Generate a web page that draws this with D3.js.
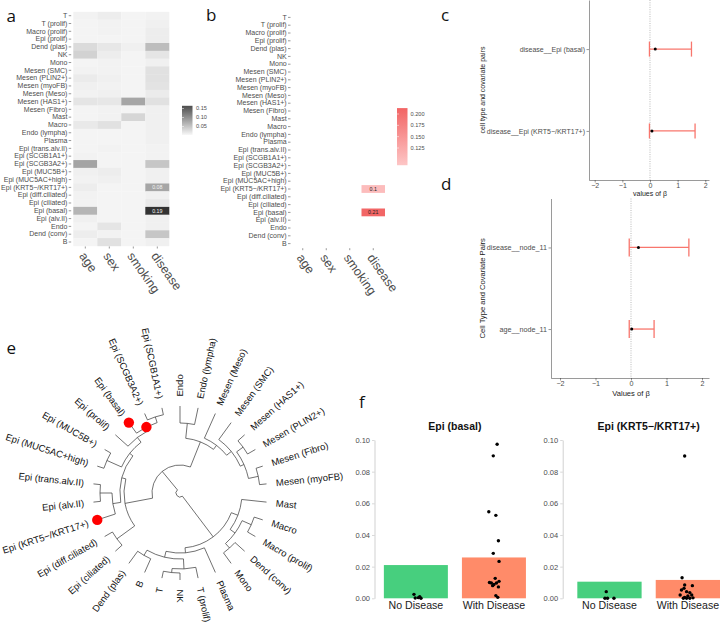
<!DOCTYPE html>
<html><head><meta charset="utf-8">
<script src="https://cdn.jsdelivr.net/npm/d3@7/dist/d3.min.js"></script>
<style>
html,body{margin:0;padding:0;background:#fff;}
svg{display:block;}
</style></head>
<body>
<svg id="fig" width="720" height="622" xmlns="http://www.w3.org/2000/svg"></svg>
<script>
// ================= DATA =================
const cellTypes = ["T","T (prolif)","Macro (prolif)","Epi (prolif)","Dend (plas)","NK","Mono","Mesen (SMC)","Mesen (PLIN2+)","Mesen (myoFB)","Mesen (Meso)","Mesen (HAS1+)","Mesen (Fibro)","Mast","Macro","Endo (lympha)","Plasma","Epi (trans.alv.II)","Epi (SCGB1A1+)","Epi (SCGB3A2+)","Epi (MUC5B+)","Epi (MUC5AC+high)","Epi (KRT5\u2212/KRT17+)","Epi (diff.ciliated)","Epi (ciliated)","Epi (basal)","Epi (alv.II)","Endo","Dend (conv)","B"];
const covariates = ["age","sex","smoking","disease"];
const heatAge     = [.008,.006,.006,.006,.030,.038,.006,.008,.014,.010,.008,.020,.006,.006,.016,.006,.006,.006,.008,.082,.010,.008,.012,.008,.008,.066,.010,.006,.012,.006];
const heatSex     = [.012,.008,.008,.006,.018,.012,.008,.008,.010,.008,.010,.018,.008,.008,.024,.006,.006,.008,.006,.006,.012,.010,.006,.006,.006,.006,.006,.020,.008,.024];
const heatSmoking = [.006,.006,.006,.006,.010,.006,.006,.006,.006,.006,.006,.080,.006,.034,.006,.006,.006,.006,.006,.006,.006,.006,.006,.006,.006,.006,.006,.006,.006,.006];
const heatDisease = [.008,.010,.012,.012,.058,.020,.010,.024,.024,.022,.014,.024,.010,.010,.010,.010,.010,.008,.008,.050,.010,.010,.080,.010,.016,.190,.010,.010,.050,.010];
const heatLegendTicks = [0.05, 0.10, 0.15];
const heatLabelRows = ["Epi (KRT5\u2212/KRT17+)", "Epi (basal)"];
const heatLabelText = ["0.08", "0.19"];

const credRows = ["Epi (KRT5\u2212/KRT17+)", "Epi (basal)"];
const credValues = [0.10, 0.21];
const credText = ["0.1", "0.21"];
const credLegendTicks = [0.125, 0.150, 0.175, 0.200];

const betaTicks = [-2, -1, 0, 1, 2];
const cPairs = ["disease__Epi (basal)", "disease__Epi (KRT5\u2212/KRT17+)"];
const cBeta = [0.19, 0.07];
const cLow  = [-0.02, -0.02];
const cHigh = [1.50, 1.63];
const dPairs = ["disease__node_11", "age__node_11"];
const dBeta = [0.21, 0.02];
const dLow  = [-0.05, -0.05];
const dHigh = [1.63, 0.65];

// tree: [parent, child, branch length]
const treeEdges = [
 ["root","Immune",51],
 ["Immune","Myeloid",7],
 ["Myeloid","Mast",25],
 ["Myeloid","node_m2",6],
 ["node_m2","node_macro",10],
 ["node_macro","Macro",9],
 ["node_macro","Macro (prolif)",9],
 ["node_m2","node_dcmono",6],
 ["node_dcmono","Dend (conv)",13],
 ["node_dcmono","Mono",13],
 ["Immune","Lymphoid",5],
 ["Lymphoid","Plasma",27],
 ["Lymphoid","node_l2",6],
 ["node_l2","node_t",10],
 ["node_t","T (prolif)",11],
 ["node_t","node_nkt",4],
 ["node_nkt","NK",7],
 ["node_nkt","T",7],
 ["node_l2","node_b",6],
 ["node_b","B",15],
 ["node_b","Dend (plas)",15],
 ["root","Rest",24],
 ["Rest","Epi",28],
 ["Epi","node_cil",22],
 ["node_cil","Epi (ciliated)",9],
 ["node_cil","Epi (diff.ciliated)",9],
 ["Epi","node_a2",4],
 ["node_a2","node_g",8],
 ["node_g","Epi (KRT5\u2212/KRT17+)",19],
 ["node_g","node_alv",12],
 ["node_alv","Epi (alv.II)",7],
 ["node_alv","Epi (trans.alv.II)",7],
 ["node_a2","node_h",4],
 ["node_h","node_muc",16],
 ["node_muc","Epi (MUC5AC+high)",7],
 ["node_muc","Epi (MUC5B+)",7],
 ["node_h","node_p",6],
 ["node_p","Epi (prolif)",17],
 ["node_p","node_11",4],
 ["node_11","Epi (basal)",13],
 ["node_11","node_scgb",6],
 ["node_scgb","Epi (SCGB3A2+)",7],
 ["node_scgb","Epi (SCGB1A1+)",7],
 ["Rest","EndoMesen",27],
 ["EndoMesen","node_endo",15],
 ["node_endo","Endo",17],
 ["node_endo","Endo (lympha)",17],
 ["EndoMesen","Mesen",5],
 ["Mesen","Mesen (Meso)",27],
 ["Mesen","node_m1",6],
 ["node_m1","Mesen (SMC)",21],
 ["node_m1","node_mm",4],
 ["node_mm","node_hp",8],
 ["node_hp","Mesen (HAS1+)",9],
 ["node_hp","Mesen (PLIN2+)",9],
 ["node_mm","node_fm",10],
 ["node_fm","Mesen (Fibro)",7],
 ["node_fm","Mesen (myoFB)",7]
];
const highlighted = ["Epi (basal)", "Epi (KRT5\u2212/KRT17+)", "node_11"];

const fGroups = ["No Disease", "With Disease"];
const yTicksF = [0, 0.02, 0.04, 0.06, 0.08, 0.10];
const basalMean = [0.0210, 0.0258];
const krtMean   = [0.0105, 0.0116];
const basalNoVals = [0.0025, 0.0002, 0.0010, 0.0000, 0.0004];
const basalNoJit  = [-0.03, -0.01, 0.06, 0.08, 0.04];
const basalYesVals = [0.0973, 0.0900, 0.0547, 0.0524, 0.0364, 0.0284, 0.0233, 0.0126, 0.0100, 0.0097, 0.0087, 0.0097, 0.0107, 0.0080, 0.0072, 0.0017, 0.0006];
const basalYesJit  = [0.05, -0.01, -0.08, 0.03, 0.07, -0.01, 0.08, 0.02, -0.07, -0.04, 0.0, 0.04, 0.08, -0.02, 0.07, 0.03, 0.06];
const krtNoVals = [0.0042, 0.0000, 0.0000, 0.0000];
const krtNoJit  = [-0.05, -0.07, -0.03, 0.07];
const krtYesVals = [0.0899, 0.0130, 0.0084, 0.0063, 0.0080, 0.0052, 0.0042, 0.0036, 0.0021, 0.0021, 0.0015, 0.0006, 0.0000, 0.0000, 0.0003, 0.0000];
const krtYesJit  = [-0.05, -0.09, -0.05, -0.06, 0.07, -0.10, -0.02, 0.03, -0.12, 0.06, 0.0, -0.05, 0.03, -0.07, 0.08, -0.02];

// ================= DRAWING =================
const FONT = '"Liberation Sans", Arial, Helvetica, sans-serif';
const svg = d3.select("#fig").style("font-family", FONT);
const TXT = "#4d4d4d";

// panel letters
const letters = [["a",6.5,21.7],["b",206,20.7],["c",441,21],["d",441,190],["e",6.5,353.5],["f",359,408]];
svg.selectAll("text.letter").data(letters).join("text").attr("class","letter")
  .attr("x",d=>d[1]).attr("y",d=>d[2]).text(d=>d[0])
  .style("font-family",'"Open Sans", "Liberation Sans", sans-serif').style("font-size","17px").attr("fill","#111");

function styleAxis(g, size, color){
  g.selectAll("text").style("font-family",FONT).style("font-size",size+"px").attr("fill",color||TXT);
  g.selectAll("line").attr("stroke","#333").attr("stroke-width",0.5);
}

// ---------- Panel a : heatmap ----------
const heatValues = [heatAge, heatSex, heatSmoking, heatDisease];
const yA = d3.scaleBand().domain(cellTypes).range([11.8, 245.9]);
const xA = d3.scaleBand().domain(covariates).range([73.3, 169.3]);
const heatColor = d3.scaleLinear().domain([0, 0.19]).range(["#fafafa", "#333333"]);
const gA = svg.append("g");
covariates.forEach((cov, j) => {
  gA.append("g").selectAll("rect").data(heatValues[j]).join("rect")
    .attr("x", xA(cov)).attr("y", (d,i)=>yA(cellTypes[i]))
    .attr("width", xA.bandwidth()).attr("height", yA.bandwidth()+0.3)
    .attr("fill", d=>heatColor(d));
});
gA.selectAll("text.cell").data(heatLabelRows).join("text").attr("class","cell")
  .attr("x", xA("disease")+xA.bandwidth()/2).attr("y",(d)=>yA(d)+yA.bandwidth()/2)
  .attr("dy","0.35em").attr("text-anchor","middle").style("font-size","5.3px").attr("fill","#f2f2f2")
  .text((d,i)=>heatLabelText[i]);
const axA = gA.append("g").attr("transform","translate(71.2,0)")
  .call(d3.axisLeft(yA).tickSize(2.5).tickPadding(1.3).tickSizeOuter(0));
axA.select(".domain").remove(); styleAxis(axA, 7.0);
const axAb = gA.append("g").attr("transform","translate(0,246.5)")
  .call(d3.axisBottom(xA).tickSize(2).tickSizeOuter(0));
axAb.select(".domain").remove(); styleAxis(axAb, 12.5);
axAb.selectAll("text").attr("x",0).attr("y",0).attr("dy","0.35em").attr("text-anchor","start")
  .attr("transform","translate(-3,7) rotate(55)");

// legend a
const yLa = d3.scaleLinear().domain([0.15, 0.05]).range([108.5, 126.5]);
const defs = svg.append("defs");
const gradA = defs.append("linearGradient").attr("id","gradA").attr("x1",0).attr("y1",1).attr("x2",0).attr("y2",0);
d3.range(0, 1.01, 0.1).forEach(t => gradA.append("stop").attr("offset",t)
  .attr("stop-color", heatColor(0.003 + t*(0.165-0.003))));
gA.append("rect").attr("x",182).attr("width",10.5).attr("y",yLa(0.165)).attr("height",yLa(0.003)-yLa(0.165)).attr("fill","url(#gradA)");
gA.selectAll("text.leg").data(heatLegendTicks).join("text").attr("class","leg")
  .attr("x",196).attr("y",d=>yLa(d)).attr("dy","0.35em").style("font-size","5.6px").attr("fill",TXT)
  .text(d=>d.toFixed(2));
gA.selectAll("line.leg").data(heatLegendTicks).join("line").attr("class","leg")
  .attr("x1",182).attr("x2",184).attr("y1",d=>yLa(d)).attr("y2",d=>yLa(d)).attr("stroke","#fff").attr("stroke-width",0.5);

// ---------- Panel b : credible effects ----------
const yB = d3.scaleBand().domain(cellTypes).range([13.5, 247.5]);
const xB = d3.scaleBand().domain(covariates).range([291, 385]);
const credColor = d3.scaleLinear().domain([0.087, 0.213]).range(["#fdc6c6", "#f26464"]);
const gB = svg.append("g");
gB.selectAll("rect.cell").data(credValues).join("rect").attr("class","cell")
  .attr("x", xB("disease")).attr("y",(d,i)=>yB(credRows[i])).attr("width",xB.bandwidth()).attr("height",yB.bandwidth())
  .attr("fill", d=>credColor(d));
gB.selectAll("text.cell").data(credValues).join("text").attr("class","cell")
  .attr("x", xB("disease")+xB.bandwidth()/2).attr("y",(d,i)=>yB(credRows[i])+yB.bandwidth()/2)
  .attr("dy","0.35em").attr("text-anchor","middle").style("font-size","5.3px").attr("fill","#222")
  .text((d,i)=>credText[i]);
const axB = gB.append("g").attr("transform","translate(290.5,0)")
  .call(d3.axisLeft(yB).tickSize(2.5).tickPadding(1.3).tickSizeOuter(0));
axB.select(".domain").remove(); styleAxis(axB, 7.0);
const axBb = gB.append("g").attr("transform","translate(0,248.2)")
  .call(d3.axisBottom(xB).tickSize(2).tickSizeOuter(0));
axBb.select(".domain").remove(); styleAxis(axBb, 12.5);
axBb.selectAll("text").attr("x",0).attr("y",0).attr("dy","0.35em").attr("text-anchor","start")
  .attr("transform","translate(-3,7) rotate(55)");
const yLb = d3.scaleLinear().domain([0.200, 0.125]).range([114, 148]);
const gradB = defs.append("linearGradient").attr("id","gradB").attr("x1",0).attr("y1",1).attr("x2",0).attr("y2",0);
d3.range(0, 1.01, 0.1).forEach(t => gradB.append("stop").attr("offset",t)
  .attr("stop-color", credColor(0.087 + t*(0.213-0.087))));
gB.append("rect").attr("x",397).attr("width",10.5).attr("y",yLb(0.213)).attr("height",yLb(0.087)-yLb(0.213)).attr("fill","url(#gradB)");
gB.selectAll("text.leg").data(credLegendTicks).join("text").attr("class","leg")
  .attr("x",410.5).attr("y",d=>yLb(d)).attr("dy","0.35em").style("font-size","5.6px").attr("fill",TXT)
  .text(d=>d.toFixed(3));
gB.selectAll("line.leg").data(credLegendTicks).join("line").attr("class","leg")
  .attr("x1",397).attr("x2",399).attr("y1",d=>yLb(d)).attr("y2",d=>yLb(d)).attr("stroke","#fff").attr("stroke-width",0.5);

// ---------- Panels c & d : forest plots ----------
function forest(cfg){
  const g = svg.append("g");
  const x = d3.scaleLinear().domain(cfg.xdom).range(cfg.xr);
  const y = d3.scalePoint().domain(cfg.pairs).range(cfg.yr).padding(0.6);
  g.append("line").attr("x1",x(0)).attr("x2",x(0)).attr("y1",cfg.yr[0]).attr("y2",cfg.yr[1])
    .attr("stroke","#8c8c8c").attr("stroke-width",0.6).attr("stroke-dasharray","1,1.3");
  const ax = g.append("g").attr("transform",`translate(0,${cfg.yr[1]})`)
    .call(d3.axisBottom(x).tickValues(betaTicks).tickSize(2.5).tickSizeOuter(0).tickPadding(0.8)
      .tickFormat(d => d < 0 ? "\u2212" + Math.abs(d) : d));
  styleAxis(ax, cfg.tickFs);
  ax.select(".domain").attr("stroke","#555").attr("stroke-width",0.6);
  const ay = g.append("g").attr("transform",`translate(${cfg.xr[0]},0)`)
    .call(d3.axisLeft(y).tickSize(2.5).tickSizeOuter(0).tickPadding(1.5));
  styleAxis(ay, cfg.labFs);
  ay.select(".domain").attr("stroke","#555").attr("stroke-width",0.6);
  cfg.pairs.forEach((p,i) => {
    const yy = y(p);
    g.append("line").attr("x1",x(cfg.low[i])).attr("x2",x(cfg.high[i])).attr("y1",yy).attr("y2",yy)
      .attr("stroke","#F8766D").attr("stroke-width",1.3);
    [cfg.low[i], cfg.high[i]].forEach(v => g.append("line").attr("x1",x(v)).attr("x2",x(v))
      .attr("y1",yy-cfg.cap).attr("y2",yy+cfg.cap).attr("stroke","#F8766D").attr("stroke-width",1.3));
    g.append("circle").attr("cx",x(cfg.beta[i])).attr("cy",yy).attr("r",1.5).attr("fill","#000");
  });
  g.append("text").attr("x",x(0)).attr("y",cfg.xlabY)
    .attr("text-anchor","middle").style("font-size",cfg.titleFs+"px").attr("fill","#1a1a1a").text(cfg.xlab);
  g.append("text").attr("transform",`translate(${cfg.ylabX},${(cfg.yr[0]+cfg.yr[1])/2}) rotate(-90)`)
    .attr("text-anchor","middle").style("font-size",cfg.titleFs+"px").attr("fill","#1a1a1a").text(cfg.ylab);
}
forest({pairs:cPairs, beta:cBeta, low:cLow, high:cHigh, xdom:[-2.206, 2.134], xr:[589, 709], yr:[0, 180],
  cap:7.5, tickFs:7, labFs:7, titleFs:7, xlab:"values of \u03b2", xlabY:196, ylab:"cell type and covariate pairs", ylabX:485});
forest({pairs:dPairs, beta:dBeta, low:dLow, high:dHigh, xdom:[-2.254, 2.197], xr:[551, 709], yr:[198.5, 378],
  cap:9, tickFs:7.2, labFs:7.2, titleFs:7.6, xlab:"Values of \u03b2", xlabY:395.5, ylab:"Cell Type and Covariate Pairs", ylabX:485});

// ---------- Panel e : circular dendrogram ----------
const cx = 180, cy = 493;
const root = d3.stratify().id(d=>d[1]).parentId(d=>d[0])([["", "root", 0]].concat(treeEdges));
d3.cluster().size([360, 1]).separation(() => 1)(root);
root.eachBefore(n => { n.len = n.parent ? n.parent.len + n.data[2] : 0; });
const rScale = d3.scaleLinear().domain([0, 83]).range([4, 87]);
const rad = a => a * Math.PI / 180;
const pt = (a, r) => [cx + r*Math.cos(rad(a)), cy + r*Math.sin(rad(a))];
const gE = svg.append("g");
root.descendants().forEach(n => {
  if (n.parent) {
    const p0 = pt(n.x, rScale(n.parent.len)), p1 = pt(n.x, rScale(n.len));
    gE.append("line").attr("x1",p0[0]).attr("y1",p0[1]).attr("x2",p1[0]).attr("y2",p1[1])
      .attr("stroke","#333").attr("stroke-width",0.7);
  }
  if (n.children) {
    const a0 = n.children[0].x, a1 = n.children[n.children.length-1].x;
    const path = d3.path(); path.arc(cx, cy, rScale(n.len), rad(a0), rad(a1), false);
    gE.append("path").attr("d", path.toString()).attr("fill","none").attr("stroke","#333").attr("stroke-width",0.7);
  }
});
root.leaves().forEach(n => {
  const left = Math.cos(rad(n.x)) < -1e-6;
  const p = pt(n.x, rScale(n.len) + 9.5);
  gE.append("text").attr("transform",`translate(${p[0]},${p[1]}) rotate(${left ? n.x-180 : n.x})`)
    .attr("text-anchor", left ? "end" : "start").attr("dy","0.35em")
    .style("font-size","9.5px").attr("fill","#111").text(n.id);
});
root.descendants().filter(n => highlighted.includes(n.id)).forEach(n => {
  const p = pt(n.x, rScale(n.len));
  gE.append("circle").attr("cx",p[0]).attr("cy",p[1]).attr("r",5.2).attr("fill","#ff0000");
});

// ---------- Panel f : bar charts ----------
function barPanel(cfg){
  const g = svg.append("g");
  const x = d3.scaleBand().domain(fGroups).range(cfg.xr).paddingInner(0.18).paddingOuter(cfg.po).align(cfg.al);
  const y = d3.scaleLinear().domain([0, 0.10]).range([598.3, 440]);
  const colors = ["#47cf7e", "#ff8b69"];
  g.selectAll("rect").data(cfg.means).join("rect")
    .attr("x",(d,i)=>x(fGroups[i])).attr("width",x.bandwidth())
    .attr("y",d=>y(d)).attr("height",d=>y(0)-y(d)).attr("fill",(d,i)=>colors[i]);
  [[cfg.noVals,cfg.noJit,0],[cfg.yesVals,cfg.yesJit,1]].forEach(([vals,jit,k]) => {
    g.append("g").selectAll("circle").data(vals).join("circle")
      .attr("cx",(d,i)=>x(fGroups[k]) + x.bandwidth()*(0.5 + jit[i])).attr("cy",d=>y(d)).attr("r",1.7).attr("fill","#000");
  });
  const ay = g.append("g").attr("transform",`translate(${cfg.xr[0]},0)`)
    .call(d3.axisLeft(y).tickValues(yTicksF).tickSize(2.5).tickSizeOuter(0).tickPadding(2).tickFormat(d3.format(".2f")));
  styleAxis(ay, 7.5);
  ay.select(".domain").attr("stroke","#b3b3b3").attr("stroke-width",0.6);
  ay.selectAll("line").attr("stroke","#b3b3b3");
  const ax = g.append("g").attr("transform","translate(0,598.3)")
    .call(d3.axisBottom(x).tickSize(0).tickPadding(3));
  ax.select(".domain").remove();
  ax.selectAll("text").style("font-family",FONT).style("font-size","10.6px").attr("fill","#1a1a1a");
  g.append("text").attr("x",(x(fGroups[0])+x(fGroups[1])+x.bandwidth())/2).attr("y",430)
    .attr("text-anchor","middle").style("font-size","10.5px").style("font-weight","bold").attr("fill","#111").text(cfg.title);
}
barPanel({xr:[374.5,535.3], po:0.12, al:0.5, means:basalMean, noVals:basalNoVals, noJit:basalNoJit,
  yesVals:basalYesVals, yesJit:basalYesJit, title:"Epi (basal)"});
barPanel({xr:[562.7,728.6], po:0.148, al:0.63, means:krtMean, noVals:krtNoVals, noJit:krtNoJit,
  yesVals:krtYesVals, yesJit:krtYesJit, title:"Epi (KRT5\u2212/KRT17+)"});
</script>
</body></html>
